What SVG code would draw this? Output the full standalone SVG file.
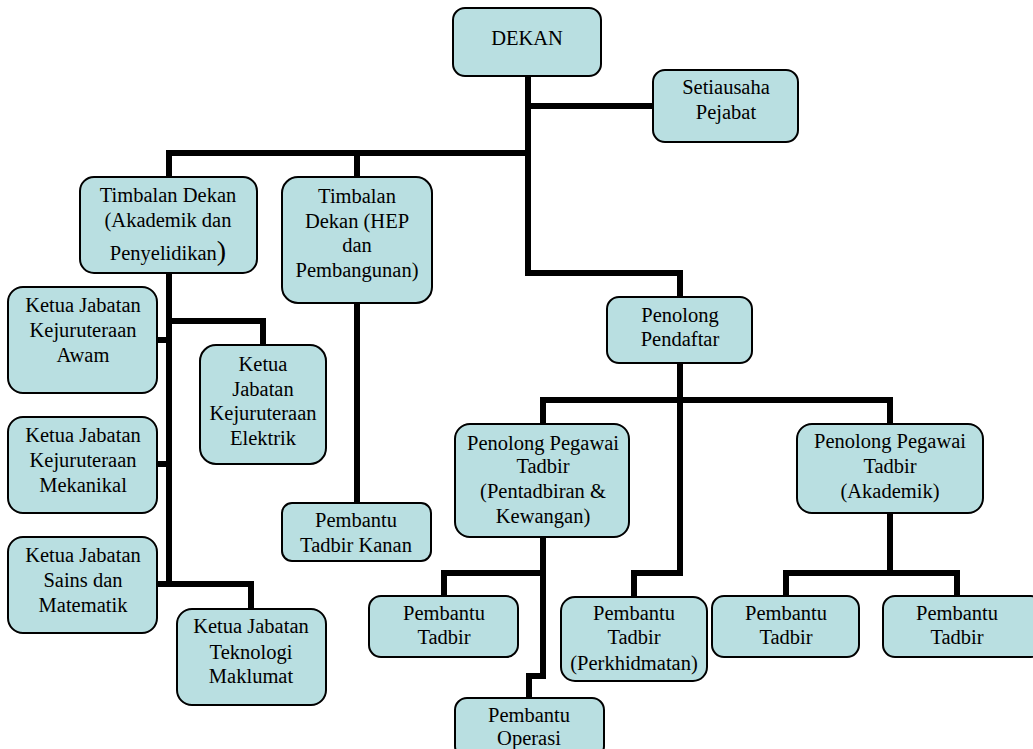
<svg xmlns="http://www.w3.org/2000/svg" width="1033" height="749" viewBox="0 0 1033 749">
<style>
.box{fill:#b9dfe1;stroke:#000;stroke-width:2}
.t{font-size:20.5px;fill:#000;text-anchor:middle}
.c{fill:none;stroke:#000;stroke-width:6;stroke-linejoin:miter;stroke-linecap:butt}
</style>
<rect width="1033" height="749" fill="#fff"/>
<g id="connectors">
<path class="c" d="M528 76 V273 H680 V297"/>
<path class="c" d="M528 106 H653"/>
<path class="c" d="M169 177 V153 H531"/>
<path class="c" d="M357 153 V177"/>
<path class="c" d="M169 273 V584 H251 V609"/>
<path class="c" d="M169 321 H263 V345"/>
<path class="c" d="M157 340 H169"/>
<path class="c" d="M157 464 H169"/>
<path class="c" d="M157 584 H169"/>
<path class="c" d="M357 303 V503"/>
<path class="c" d="M680 363 V573 H634 V597"/>
<path class="c" d="M543 424 V400 H890 V424"/>
<path class="c" d="M543 537 V676 H529 V698"/>
<path class="c" d="M543 573 H444 V596"/>
<path class="c" d="M890 513 V573"/>
<path class="c" d="M786 596 V573 H957 V596"/>
</g>
<g font-family="Liberation Serif, Tinos, Times New Roman, DejaVu Serif, serif">
<g id="dekan"><rect class="box" x="453" y="8" width="148" height="68" rx="12"/><text class="t" x="527" y="45">DEKAN</text></g>
<g id="setiausaha"><rect class="box" x="653" y="70" width="145" height="72" rx="12"/><text class="t" x="726" y="94">Setiausaha</text><text class="t" x="726" y="119">Pejabat</text></g>
<g id="td1"><rect class="box" x="80" y="177" width="177" height="96" rx="14"/><text class="t" x="168" y="202">Timbalan Dekan</text><text class="t" x="168" y="227">(Akademik dan</text><text class="t" x="168" y="260">Penyelidikan<tspan font-size="28px">)</tspan></text></g>
<g id="td2"><rect class="box" x="282" y="177" width="150" height="126" rx="16"/><text class="t" x="357" y="203">Timbalan</text><text class="t" x="357" y="228">Dekan (HEP</text><text class="t" x="357" y="252">dan</text><text class="t" x="357" y="277">Pembangunan)</text></g>
<g id="kj-awam"><rect class="box" x="8" y="287" width="149" height="106" rx="15"/><text class="t" x="83" y="312">Ketua Jabatan</text><text class="t" x="83" y="337">Kejuruteraan</text><text class="t" x="83" y="362">Awam</text></g>
<g id="kj-elektrik"><rect class="box" x="200" y="345" width="126" height="119" rx="16"/><text class="t" x="263" y="371">Ketua</text><text class="t" x="263" y="396">Jabatan</text><text class="t" x="263" y="420">Kejuruteraan</text><text class="t" x="263" y="445">Elektrik</text></g>
<g id="kj-mekanikal"><rect class="box" x="8" y="417" width="149" height="96" rx="15"/><text class="t" x="83" y="442">Ketua Jabatan</text><text class="t" x="83" y="467">Kejuruteraan</text><text class="t" x="83" y="492">Mekanikal</text></g>
<g id="kj-sains"><rect class="box" x="8" y="537" width="149" height="96" rx="15"/><text class="t" x="83" y="562">Ketua Jabatan</text><text class="t" x="83" y="587">Sains dan</text><text class="t" x="83" y="612">Matematik</text></g>
<g id="kj-tm"><rect class="box" x="177" y="609" width="149" height="96" rx="15"/><text class="t" x="251" y="633">Ketua Jabatan</text><text class="t" x="251" y="659">Teknologi</text><text class="t" x="251" y="683">Maklumat</text></g>
<g id="pt-kanan"><rect class="box" x="282" y="503" width="149" height="58" rx="10"/><text class="t" x="356" y="527">Pembantu</text><text class="t" x="356" y="552">Tadbir Kanan</text></g>
<g id="penolong-pendaftar"><rect class="box" x="607" y="297" width="145" height="66" rx="12"/><text class="t" x="680" y="322">Penolong</text><text class="t" x="680" y="346">Pendaftar</text></g>
<g id="ppt1"><rect class="box" x="455" y="424" width="174" height="113" rx="15"/><text class="t" x="543" y="450">Penolong Pegawai</text><text class="t" x="543" y="473">Tadbir</text><text class="t" x="543" y="498">(Pentadbiran &amp;</text><text class="t" x="543" y="523">Kewangan)</text></g>
<g id="ppt2"><rect class="box" x="797" y="424" width="186" height="89" rx="15"/><text class="t" x="890" y="448">Penolong Pegawai</text><text class="t" x="890" y="473">Tadbir</text><text class="t" x="890" y="498">(Akademik)</text></g>
<g id="pt1"><rect class="box" x="369" y="596" width="149" height="61" rx="12"/><text class="t" x="444" y="620">Pembantu</text><text class="t" x="444" y="644">Tadbir</text></g>
<g id="pt-operasi"><rect class="box" x="455" y="698" width="149" height="60" rx="12"/><text class="t" x="529" y="722">Pembantu</text><text class="t" x="529" y="745">Operasi</text></g>
<g id="pt-perkhidmatan"><rect class="box" x="561" y="597" width="146" height="84" rx="14"/><text class="t" x="634" y="620">Pembantu</text><text class="t" x="634" y="644">Tadbir</text><text class="t" x="634" y="670">(Perkhidmatan)</text></g>
<g id="pt3"><rect class="box" x="712" y="596" width="147" height="61" rx="12"/><text class="t" x="786" y="620">Pembantu</text><text class="t" x="786" y="644">Tadbir</text></g>
<g id="pt4"><rect class="box" x="883" y="596" width="160" height="61" rx="12"/><text class="t" x="957" y="620">Pembantu</text><text class="t" x="957" y="644">Tadbir</text></g>
</g>
</svg>
